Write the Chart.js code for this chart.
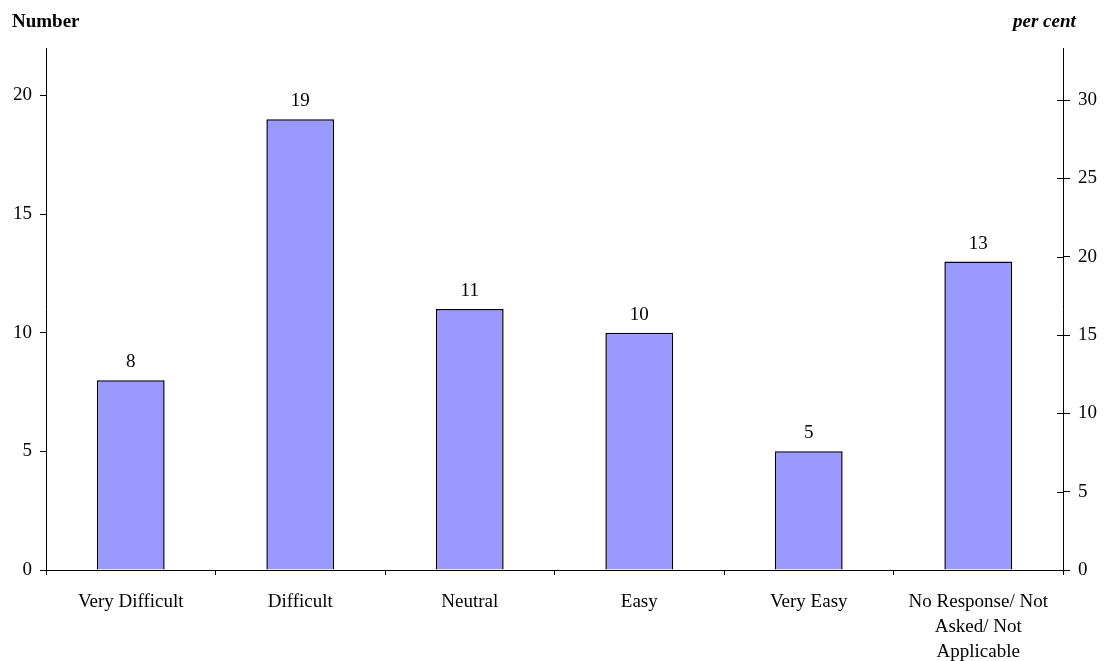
<!DOCTYPE html>
<html>
<head>
<meta charset="utf-8">
<script src="https://cdn.jsdelivr.net/npm/chart.js@4.4.1/dist/chart.umd.min.js"></script>
<style>
  html, body { margin: 0; padding: 0; background: #fff; }
  #wrap { width: 1106px; height: 661px; }
</style>
</head>
<body>
<div id="wrap"><canvas id="chart" width="1106" height="661"></canvas></div>
<script>
// categorias e valores
const categorias = [
  'Very Difficult',
  'Difficult',
  'Neutral',
  'Easy',
  'Very Easy',
  ['No Response/ Not', 'Asked/ Not', 'Applicable']
];
const numeros = [8, 19, 11, 10, 5, 13];
const ticksNumero = [0, 5, 10, 15, 20];
const ticksPercent = [0, 5, 10, 15, 20, 25, 30];
const maxNumero = 22;

const total = numeros.reduce((a, b) => a + b, 0);
const maxPercent = maxNumero / total * 100;

const fonte = 'Liberation Serif, Times New Roman, serif';

// rótulos de valor acima das barras + títulos dos eixos
const extras = {
  id: 'extras',
  afterDatasetsDraw(chart) {
    const ctx = chart.ctx;
    ctx.save();
    ctx.fillStyle = '#000';
    ctx.font = '19px ' + fonte;
    ctx.textAlign = 'center';
    ctx.textBaseline = 'alphabetic';
    chart.getDatasetMeta(0).data.forEach((bar, i) => {
      ctx.fillText(numeros[i], bar.x, bar.y - 13);
    });

    // marcas internas do eixo direito (cruzam o eixo)
    const yr = chart.scales.yr;
    ctx.strokeStyle = '#000';
    ctx.lineWidth = 1;
    ticksPercent.forEach(v => {
      const y = Math.round(yr.getPixelForValue(v)) + 0.5;
      ctx.beginPath();
      ctx.moveTo(yr.left - 6, y);
      ctx.lineTo(yr.left, y);
      ctx.stroke();
    });

    ctx.textAlign = 'left';
    ctx.font = 'bold 19px ' + fonte;
    ctx.fillText('Number', 12, 27);
    ctx.font = 'italic bold 19px ' + fonte;
    ctx.fillText('per cent', 1013, 27);
    ctx.restore();
  }
};

const soMultiplos = passo => scale => {
  scale.ticks = scale.ticks.filter(t => Math.abs(t.value % passo) < 1e-6);
};

new Chart(document.getElementById('chart'), {
  type: 'bar',
  data: {
    labels: categorias,
    datasets: [{
      data: numeros,
      backgroundColor: '#9999FF',
      borderColor: '#000',
      borderWidth: 1.5,
      barPercentage: 0.4,
      categoryPercentage: 1.0,
      yAxisID: 'y'
    }]
  },
  options: {
    responsive: false,
    animation: false,
    layout: { padding: { top: 48, left: 0, right: 0, bottom: 0 } },
    plugins: {
      legend: { display: false },
      tooltip: { enabled: false }
    },
    scales: {
      x: {
        offset: true,
        grid: { offset: true, drawOnChartArea: false, tickLength: 5, color: '#000' },
        border: { color: '#000', width: 1 },
        ticks: {
          color: '#000',
          font: { family: fonte, size: 19, lineHeight: 1.3 },
          padding: 15,
          maxRotation: 0,
          autoSkip: false
        },
        afterFit: s => { s.height = 91; }
      },
      y: {
        position: 'left',
        min: 0,
        max: maxNumero,
        ticks: { stepSize: 5, color: '#000', font: { family: fonte, size: 19 }, padding: 8 },
        afterBuildTicks: soMultiplos(5),
        grid: { drawOnChartArea: false, tickLength: 6, color: '#000' },
        border: { color: '#000', width: 1 },
        afterFit: s => { s.width = 46; }
      },
      yr: {
        position: 'right',
        min: 0,
        max: maxPercent,
        ticks: { stepSize: 5, color: '#000', font: { family: fonte, size: 19 }, padding: 8 },
        afterBuildTicks: soMultiplos(5),
        grid: { drawOnChartArea: false, tickLength: 7, color: '#000' },
        border: { color: '#000', width: 1 },
        afterFit: s => { s.width = 43; }
      }
    }
  },
  plugins: [extras]
});
</script>
</body>
</html>
